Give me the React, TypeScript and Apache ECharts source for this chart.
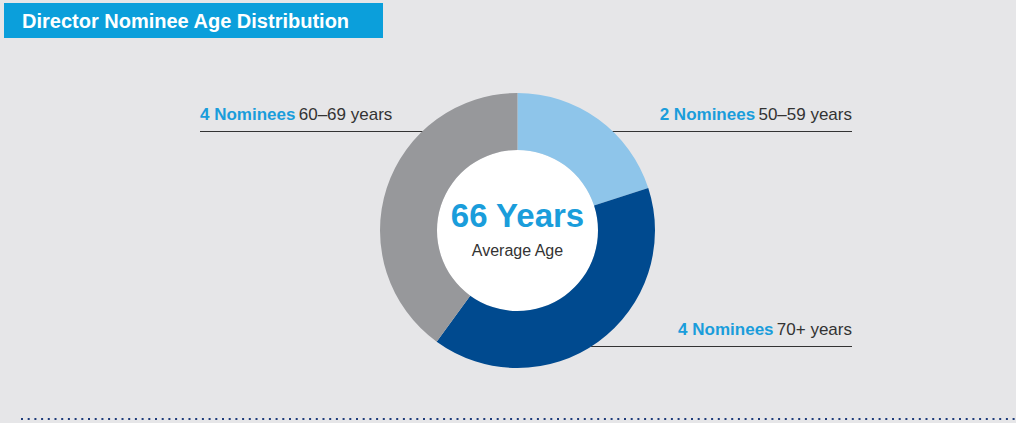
import React, { useEffect, useRef } from "react";
import * as echarts from "echarts";

const categories = ["50–59 years", "70+ years", "60–69 years"];
const nominees = [2, 4, 4];
const colors = ["#8ec5ea", "#004a8f", "#97989b"];
const titleText = "Director Nominee Age Distribution";
const averageAge = 66;

export default function App() {
  const ref = useRef<HTMLDivElement>(null);

  useEffect(() => {
    document.body.style.margin = "0";
    const chart = echarts.init(ref.current!, null, { renderer: "svg" });
    const cx = 517.5;
    const cy = 230.5;
    const R = 137.5;
    const r = 80.5;
    const FONT = "'Liberation Sans', Arial, Helvetica, sans-serif";
    const layouts = [
      { y: 131, x: 852, side: "right" },
      { y: 346, x: 852, side: "right" },
      { y: 131, x: 200, side: "left" },
    ];
    const edgeX = (y: number, side: string) => {
      const dy = y - cy;
      const dx = Math.sqrt(Math.max(0, R * R - dy * dy));
      return side === "right" ? cx + dx - 1 : cx - dx + 1;
    };

    chart.setOption({
      animation: false,
      backgroundColor: "#e6e6e8",
      graphic: [
        {
          type: "rect",
          shape: { x: 4, y: 3, width: 379, height: 35 },
          style: { fill: "#0b9fdb" },
          silent: true,
        },
        {
          type: "text",
          x: 22,
          y: 21,
          style: {
            text: titleText,
            fill: "#ffffff",
            font: `bold 20px ${FONT}`,
            verticalAlign: "middle",
          },
          silent: true,
        },
        {
          type: "line",
          shape: { x1: 21, y1: 419, x2: 1016, y2: 419 },
          style: { stroke: "#1f3c7a", lineWidth: 2, lineDash: [2, 4.7] },
          silent: true,
        },
      ],
      series: [
        {
          type: "pie",
          center: [cx, cy],
          radius: [0, r],
          silent: true,
          z: 1,
          itemStyle: { color: "#ffffff" },
          label: {
            show: true,
            position: "center",
            formatter: `{a|${averageAge} Years}\n{b|Average Age}`,
            rich: {
              a: {
                fontFamily: FONT,
                fontWeight: "bold",
                fontSize: 33,
                color: "#1a9ddb",
                lineHeight: 40,
              },
              b: {
                fontFamily: FONT,
                fontSize: 16,
                color: "#333333",
                lineHeight: 30,
              },
            },
          },
          labelLine: { show: false },
          emphasis: { disabled: true },
          data: [{ value: 1, name: "avg" }],
        },
        {
          type: "pie",
          center: [cx, cy],
          radius: [r, R],
          startAngle: 90,
          clockwise: true,
          silent: true,
          z: 2,
          emphasis: { disabled: true },
          data: categories.map((c, i) => ({
            name: c,
            value: nominees[i],
            itemStyle: { color: colors[i] },
          })),
          label: {
            show: true,
            position: "outside",
            formatter: (p: any) => `{b|${p.value} Nominees} {r|${p.name}}`,
            rich: {
              b: {
                fontFamily: FONT,
                fontWeight: "bold",
                fontSize: 17,
                color: "#1a9ddb",
              },
              r: {
                fontFamily: FONT,
                fontSize: 17,
                color: "#333333",
              },
            },
          },
          labelLine: {
            show: true,
            lineStyle: { color: "#333333", width: 1 },
          },
          labelLayout: (params: any) => {
            const L = layouts[params.dataIndex];
            const ex = edgeX(L.y, L.side);
            return {
              x: L.x,
              y: L.y - 8,
              align: L.side === "right" ? "right" : "left",
              verticalAlign: "bottom",
              labelLinePoints: [
                [ex, L.y + 0.5],
                [ex, L.y + 0.5],
                [L.x, L.y + 0.5],
              ],
            };
          },
        },
      ],
    });
    return () => chart.dispose();
  }, []);

  return <div ref={ref} style={{ width: 1016, height: 423 }} />;
}
